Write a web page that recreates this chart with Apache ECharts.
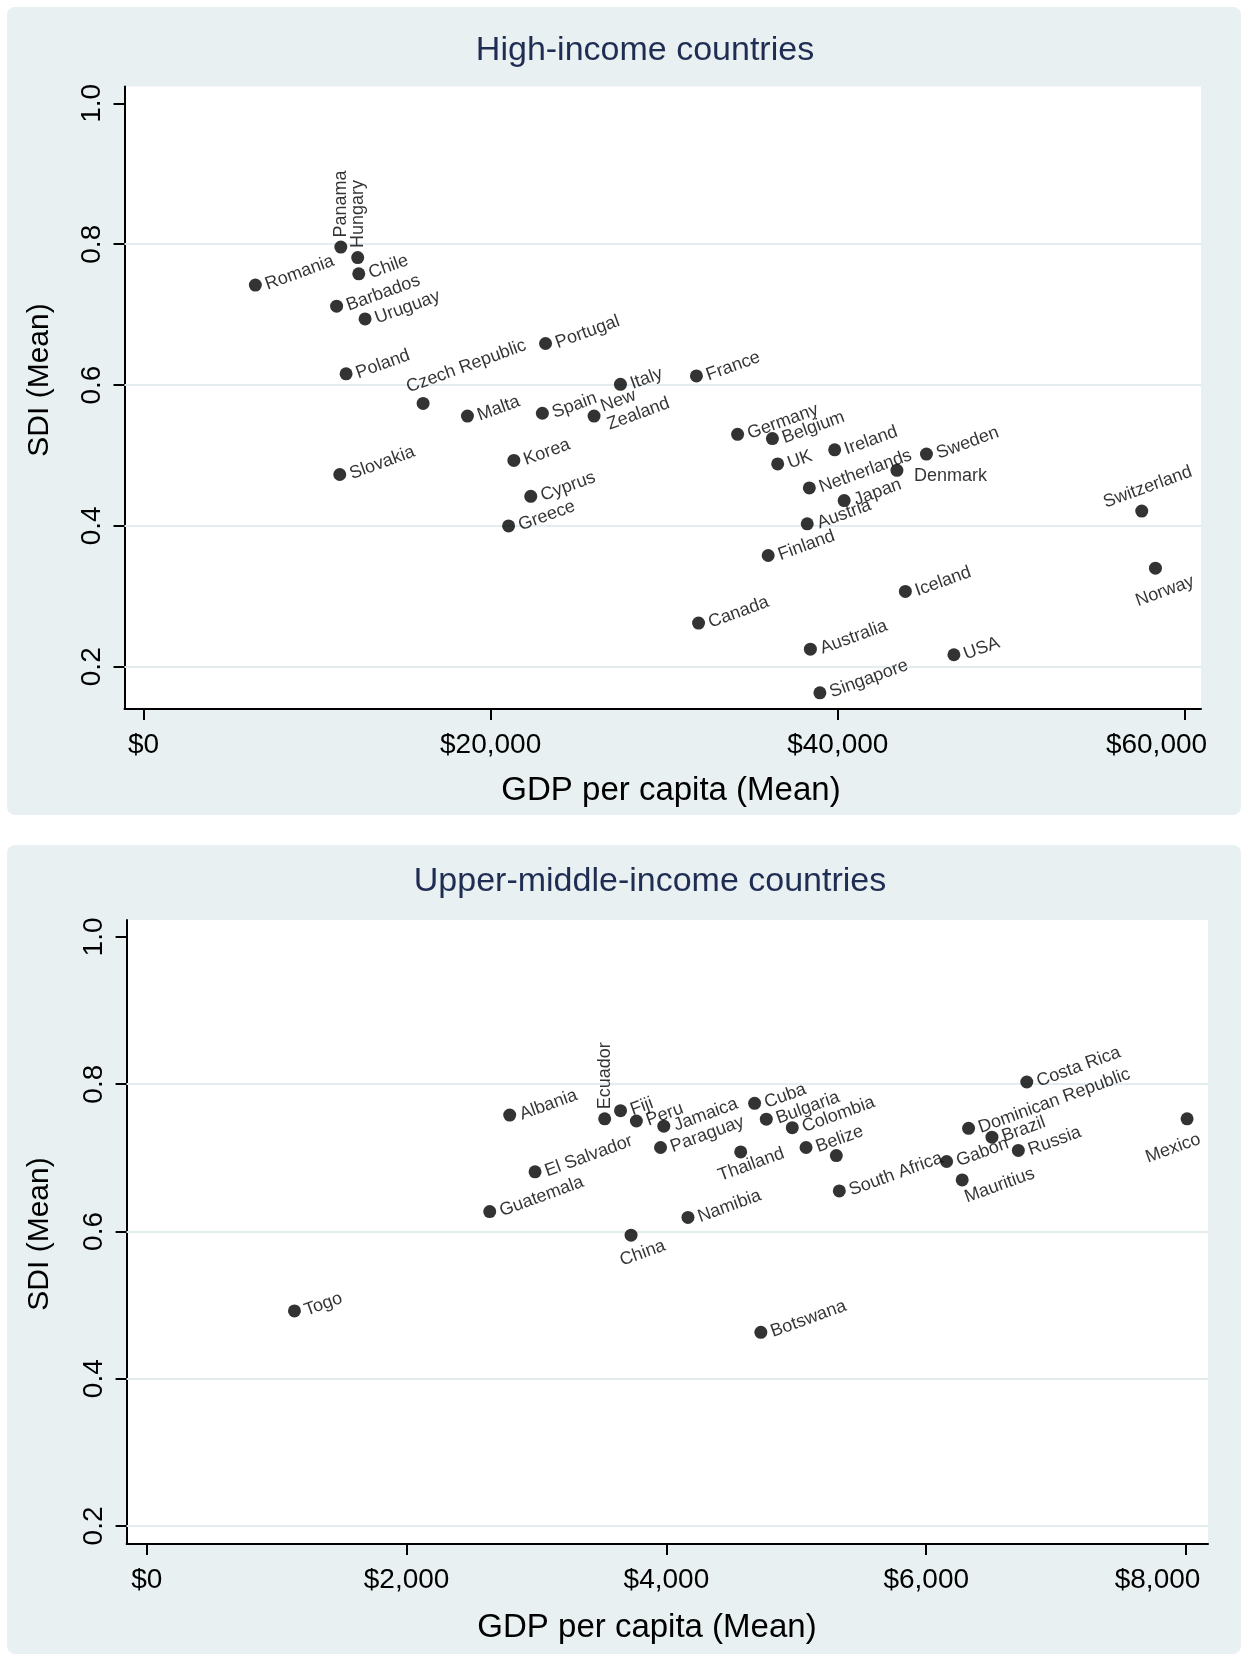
<!DOCTYPE html>
<html><head><meta charset="utf-8">
<script src="https://cdn.jsdelivr.net/npm/echarts@6/dist/echarts.min.js"></script>
<style>
html,body{margin:0;padding:0;background:#fff}
.panel{position:absolute;left:7px;width:1234px;background:#e8f0f2;border-radius:8px}
#c{position:absolute;left:0;top:0;width:1241px;height:1654px}
</style>
</head><body>
<div class="panel" style="top:7px;height:808px"></div>
<div class="panel" style="top:845px;height:809px"></div>
<div id="c"></div>
<script>
// ---------- data ----------
const highNames = ['Romania','Panama','Hungary','Chile','Barbados','Uruguay','Poland','Czech Republic','Malta','Spain','New Zealand','Portugal','Italy','France','Korea','Slovakia','Cyprus','Greece','Germany','Belgium','UK','Ireland','Netherlands','Sweden','Denmark','Japan','Austria','Finland','Canada','Iceland','Australia','USA','Singapore','Switzerland','Norway'];
const highGdp = [6444,11368,12340,12401,11125,12766,11672,16109,18663,22979,25957,23161,27477,31854,21337,11307,22310,21033,34225,36231,36535,39818,38359,45106,43404,40365,38237,35988,31976,43891,38419,46687,38967,57508,58298];
const highSdi = [0.742,0.796,0.781,0.758,0.712,0.694,0.616,0.574,0.556,0.560,0.556,0.659,0.601,0.613,0.493,0.473,0.442,0.400,0.530,0.524,0.488,0.508,0.454,0.502,0.479,0.436,0.403,0.358,0.262,0.307,0.225,0.217,0.163,0.421,0.340];

const umNames = ['Togo','Guatemala','El Salvador','Albania','Ecuador','Fiji','Peru','Jamaica','Paraguay','Thailand','Cuba','Bulgaria','Colombia','Belize','','South Africa','Namibia','China','Botswana','Gabon','Dominican Republic','Brazil','Mauritius','Russia','Costa Rica','Mexico'];
const umGdp = [1137,2640,2989,2794,3525,3647,3769,3980,3955,4572,4679,4769,4969,5075,5308,5331,4166,3728,4727,6157,6326,6506,6277,6709,6774,8008];
const umSdi = [0.492,0.627,0.681,0.758,0.753,0.764,0.750,0.743,0.714,0.708,0.774,0.7525,0.741,0.714,0.703,0.655,0.619,0.595,0.463,0.695,0.740,0.728,0.670,0.710,0.803,0.753];

const highXTicks = [0,20000,40000,60000];
const umXTicks = [0,2000,4000,6000,8000];
const sdiTicks = [0.2,0.4,0.6,0.8,1.0];
const sdiGridLines = [0.2,0.4,0.6,0.8];
const panelTitles = ['High-income countries','Upper-middle-income countries'];
const xTitle = 'GDP per capita (Mean)';
const yTitle = 'SDI (Mean)';

// ---------- styles ----------
const FONT = '"Liberation Sans", Arial, Helvetica, sans-serif';
const R = 6.5; // half symbol size
function P(dx, dy){ return [R + dx, R + dy]; } // label anchor relative to dot centre
const VERT = {position:'top', rotate:90, align:'left', verticalAlign:'middle', distance:3};
const CM = {rotate:20, align:'center', verticalAlign:'middle'};
const labelOverrides = {
  'Panama': VERT, 'Hungary': VERT, 'Ecuador': VERT,
  'Denmark': {position:P(17,5.3), rotate:0, align:'left', verticalAlign:'middle'},
  'Switzerland': Object.assign({position:P(6,-24)}, CM),
  'Norway': Object.assign({position:P(9.5,23)}, CM),
  'Mexico': Object.assign({position:P(-14,29.5)}, CM),
  'China': Object.assign({position:P(11.6,18)}, CM),
  'Thailand': Object.assign({position:P(10.5,12.7)}, CM),
  'Czech Republic': {position:P(-13,-7), rotate:20, align:'left', verticalAlign:'bottom'},
  'New Zealand': {formatter:'New\nZealand', lineHeight:19},
  'Mauritius': {position:'bottom', rotate:20, align:'left', verticalAlign:'top', distance:3}
};

function pts(names, xs, ys){
  return names.map((n,i)=>{
    const d = {name:n, value:[xs[i], ys[i]]};
    if (labelOverrides[n]) d.label = labelOverrides[n];
    return d;
  });
}

function xAxisCfg(gi, min, max, ticks){
  const last = ticks[ticks.length-1];
  return {type:'value', gridIndex:gi, min:min, max:max,
    axisLine:{show:true, onZero:false, lineStyle:{color:'#000', width:2}},
    axisTick:{show:true, customValues:ticks, length:11, lineStyle:{color:'#000', width:2}},
    axisLabel:{show:true, customValues:ticks,
      formatter:v=>{ const s='$'+Math.round(v).toLocaleString('en-US'); return v===last ? '{m|'+s+'}' : s; },
      rich:{m:{fontSize:28, fontFamily:FONT, color:'#000', padding:[0,57,0,0]}},
      fontSize:28, color:'#000', margin:22, fontFamily:FONT},
    splitLine:{show:false}};
}
function yAxisCfg(gi, min, max){
  return {type:'value', gridIndex:gi, min:min, max:max,
    axisLine:{show:true, onZero:false, lineStyle:{color:'#000', width:2}},
    axisTick:{show:true, customValues:sdiTicks, length:11, lineStyle:{color:'#000', width:2}},
    axisLabel:{show:true, customValues:sdiTicks, rotate:90, formatter:v=>v.toFixed(1),
      fontSize:28, color:'#000', margin:18, fontFamily:FONT},
    splitLine:{show:false}};
}
function scatterSeries(gi, data){
  return {type:'scatter', xAxisIndex:gi, yAxisIndex:gi, z:5,
    symbol:'circle', symbolSize:13, itemStyle:{color:'#000'},
    label:{show:true, position:'right', rotate:20, distance:4, formatter:'{b}',
      color:'#000', fontSize:18, fontFamily:FONT},
    labelLayout:{hideOverlap:false},
    emphasis:{disabled:true},
    markLine:{silent:true, z:1, symbol:'none', animation:false, label:{show:false},
      lineStyle:{color:'#e3ecef', width:2, type:'solid'},
      data: sdiGridLines.map(v=>({yAxis:v}))},
    data:data};
}

const chart = echarts.init(document.getElementById('c'), null, {renderer:'canvas'});
const titleStyle = {fontSize:34, fontFamily:FONT, fill:'#1f2d52', align:'center', verticalAlign:'middle'};
const axTitleStyle = {fontSize:33, fontFamily:FONT, fill:'#000', align:'center', verticalAlign:'middle'};
const yTitleStyle = {fontSize:30, fontFamily:FONT, fill:'#000', align:'center', verticalAlign:'middle'};
chart.setOption({
  animation:false,
  backgroundColor:'transparent',
  grid:[
    {left:124.5, top:86.5, width:1076.5, height:622.5, show:true, backgroundColor:'#fff', borderWidth:0},
    {left:126.6, top:920, width:1081.4, height:624, show:true, backgroundColor:'#fff', borderWidth:0}
  ],
  xAxis:[ xAxisCfg(0, -1094, 60922, highXTicks), xAxisCfg(1, -155, 8169, umXTicks) ],
  yAxis:[ yAxisCfg(0, 0.140, 1.024), yAxisCfg(1, 0.1755, 1.023) ],
  series:[
    scatterSeries(0, pts(highNames, highGdp, highSdi)),
    scatterSeries(1, pts(umNames, umGdp, umSdi))
  ],
  graphic:[
    {type:'text', x:645, y:51, style:Object.assign({text:panelTitles[0]}, titleStyle)},
    {type:'text', x:650, y:882, style:Object.assign({text:panelTitles[1]}, titleStyle)},
    {type:'text', x:671, y:791, style:Object.assign({text:xTitle}, axTitleStyle)},
    {type:'text', x:647, y:1628, style:Object.assign({text:xTitle}, axTitleStyle)},
    {type:'text', x:40, y:380, rotation:Math.PI/2, style:Object.assign({text:yTitle}, yTitleStyle)},
    {type:'text', x:40, y:1234, rotation:Math.PI/2, style:Object.assign({text:yTitle}, yTitleStyle)}
  ]
});
</script>
</body></html>
